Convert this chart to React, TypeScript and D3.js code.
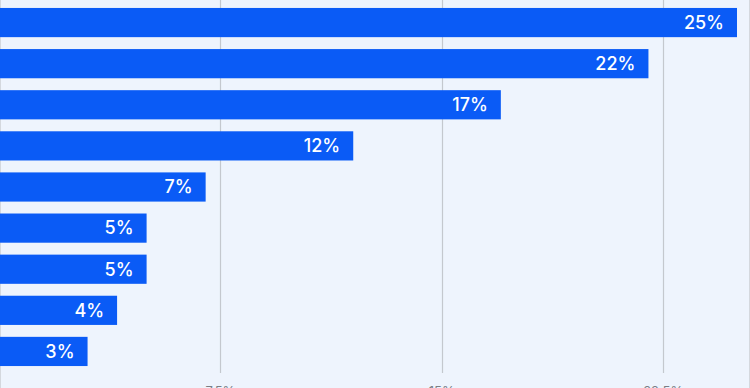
import React from 'react';
import * as d3 from 'd3';

// category names sit off-canvas to the left in the reference, so only ids are kept
const categories = ['c1', 'c2', 'c3', 'c4', 'c5', 'c6', 'c7', 'c8', 'c9'];
const shares = [25, 22, 17, 12, 7, 5, 5, 4, 3];
const tickValues = [7.5, 15, 22.5];
const tickLabels = ['7.5%', '15%', '22.5%'];

const width = 750;
const height = 388;

export default function App() {
  const x = d3.scaleLinear().domain([0, 25]).range([-1, 737]);
  const y = d3
    .scaleBand<string>()
    .domain(categories)
    .range([2, 372])
    .paddingInner(0.29)
    .paddingOuter(0.145);

  return (
    <svg
      width={width}
      height={height}
      style={{ position: 'absolute', left: 0, top: 0, display: 'block' }}
      fontFamily="Inter, 'Noto Sans', sans-serif"
    >
      <rect width={width} height={height} fill="#eef4fd" />
      <line x1={0.5} x2={0.5} y1={0} y2={height} stroke="#d4d8de" />
      <line x1={749.5} x2={749.5} y1={0} y2={height} stroke="#d4d8de" />
      {tickValues.map((t, i) => (
        <g key={t}>
          <line
            x1={Math.round(x(t)) + 0.5}
            x2={Math.round(x(t)) + 0.5}
            y1={0}
            y2={373}
            stroke="#c4c8ce"
            strokeWidth={1.2}
          />
          <text x={x(t)} y={396} textAnchor="middle" fontSize={13} fill="#7a7e85">
            {tickLabels[i]}
          </text>
        </g>
      ))}
      {categories.map((c, i) => (
        <g key={c}>
          <rect
            x={x(0)}
            y={y(c)}
            width={x(shares[i]) - x(0)}
            height={y.bandwidth()}
            fill="#0a5bf6"
          />
          <text
            x={x(shares[i]) - 13}
            y={(y(c) as number) + y.bandwidth() / 2}
            dy="0.35em"
            textAnchor="end"
            fontSize={18}
            fontWeight={500}
            fill="#ffffff"
          >
            {shares[i]}%
          </text>
        </g>
      ))}
    </svg>
  );
}
